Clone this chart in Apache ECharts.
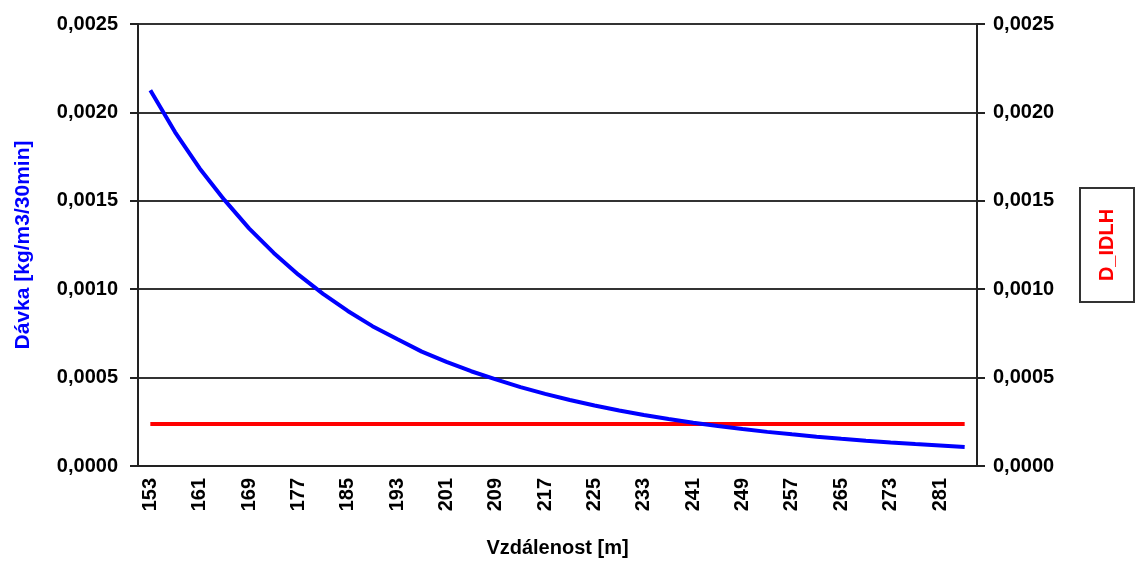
<!DOCTYPE html>
<html>
<head>
<meta charset="utf-8">
<script src="https://cdn.jsdelivr.net/npm/echarts@6/dist/echarts.min.js"></script>
<style>
  html, body { margin: 0; padding: 0; background: #fff; }
  #chart { width: 1143px; height: 563px; }
</style>
</head>
<body>
<div id="chart"></div>
<script>
// distance categories [m], every 4 m
const distances = [153, 157, 161, 165, 169, 173, 177, 181, 185, 189, 193, 197, 201, 205, 209, 213, 217,
  221, 225, 229, 233, 237, 241, 245, 249, 253, 257, 261, 265, 269, 273, 277, 281, 285]

// dose [kg/m3/30min]
const doseValues = [0.002125, 0.001889, 0.001683, 0.001505, 0.001344, 0.001205, 0.001082, 0.000974,
  0.000877, 0.000791, 0.000718, 0.000647, 0.000589, 0.000536, 0.000490, 0.000446, 0.000408,
  0.000373, 0.000342, 0.000314, 0.000288, 0.000266, 0.000245, 0.000226, 0.000209, 0.000193,
  0.000179, 0.000166, 0.000154, 0.000143, 0.000133, 0.000124, 0.000116, 0.000108]

// IDLH threshold dose
const idlhValues = [0.000237, 0.000237, 0.000237, 0.000237, 0.000237, 0.000237, 0.000237, 0.000237,
  0.000237, 0.000237, 0.000237, 0.000237, 0.000237, 0.000237, 0.000237, 0.000237, 0.000237,
  0.000237, 0.000237, 0.000237, 0.000237, 0.000237, 0.000237, 0.000237, 0.000237, 0.000237,
  0.000237, 0.000237, 0.000237, 0.000237, 0.000237, 0.000237, 0.000237, 0.000237]

const yMin = 0
const yMax = 0.0025
const yStep = 0.0005

const font = 'Liberation Sans, Arial, sans-serif'
const fmt = v => v.toFixed(4).replace('.', ',')

const chart = echarts.init(document.getElementById('chart'), null, { renderer: 'canvas' })

const valueAxis = (side, showSplit) => ({
  type: 'value',
  position: side,
  min: yMin,
  max: yMax,
  interval: yStep,
  axisLine: { show: true, lineStyle: { color: '#222', width: 2 } },
  axisTick: { show: true, length: 8, lineStyle: { color: '#222', width: 2 } },
  axisLabel: {
    margin: side === 'left' ? 20 : 16,
    color: '#000',
    fontFamily: font,
    fontWeight: 'bold',
    fontSize: 20,
    formatter: fmt
  },
  splitLine: { show: showSplit, lineStyle: { color: '#333', width: 2 } }
})

const leftAxis = valueAxis('left', true)
leftAxis.name = 'Dávka [kg/m3/30min]'
leftAxis.nameLocation = 'middle'
leftAxis.nameRotate = 90
leftAxis.nameGap = 104
leftAxis.nameTextStyle = { color: '#0000ff', fontFamily: font, fontWeight: 'bold', fontSize: 21 }

const rightAxis = valueAxis('right', false)
rightAxis.name = 'D_IDLH'
rightAxis.nameLocation = 'middle'
rightAxis.nameRotate = 90
rightAxis.nameGap = 104
rightAxis.nameTextStyle = {
  color: '#ff0000', fontFamily: font, fontWeight: 'bold', fontSize: 20,
  borderColor: '#333', borderWidth: 2, padding: [16, 20, 16, 20], backgroundColor: '#fff'
}

const option = {
  animation: false,
  backgroundColor: '#fff',
  grid: { left: 138, right: 164, top: 24, bottom: 97, containLabel: false },
  xAxis: {
    type: 'category',
    data: distances,
    boundaryGap: true,
    name: 'Vzdálenost [m]',
    nameLocation: 'middle',
    nameGap: 72,
    nameTextStyle: { color: '#000', fontFamily: font, fontWeight: 'bold', fontSize: 20 },
    axisLine: { show: true, lineStyle: { color: '#222', width: 2 } },
    axisTick: { show: false },
    axisLabel: {
      interval: 1,
      rotate: 90,
      margin: 12,
      color: '#000',
      fontFamily: font,
      fontWeight: 'bold',
      fontSize: 20
    },
    splitLine: { show: false }
  },
  yAxis: [leftAxis, rightAxis],
  series: [
    {
      name: 'D_IDLH',
      type: 'line',
      yAxisIndex: 1,
      data: idlhValues,
      showSymbol: false,
      lineStyle: { color: '#ff0000', width: 4 },
      z: 2
    },
    {
      name: 'Dávka',
      type: 'line',
      yAxisIndex: 0,
      data: doseValues,
      showSymbol: false,
      lineStyle: { color: '#0000ff', width: 4 },
      z: 3
    }
  ]
}

chart.setOption(option)
</script>
</body>
</html>
